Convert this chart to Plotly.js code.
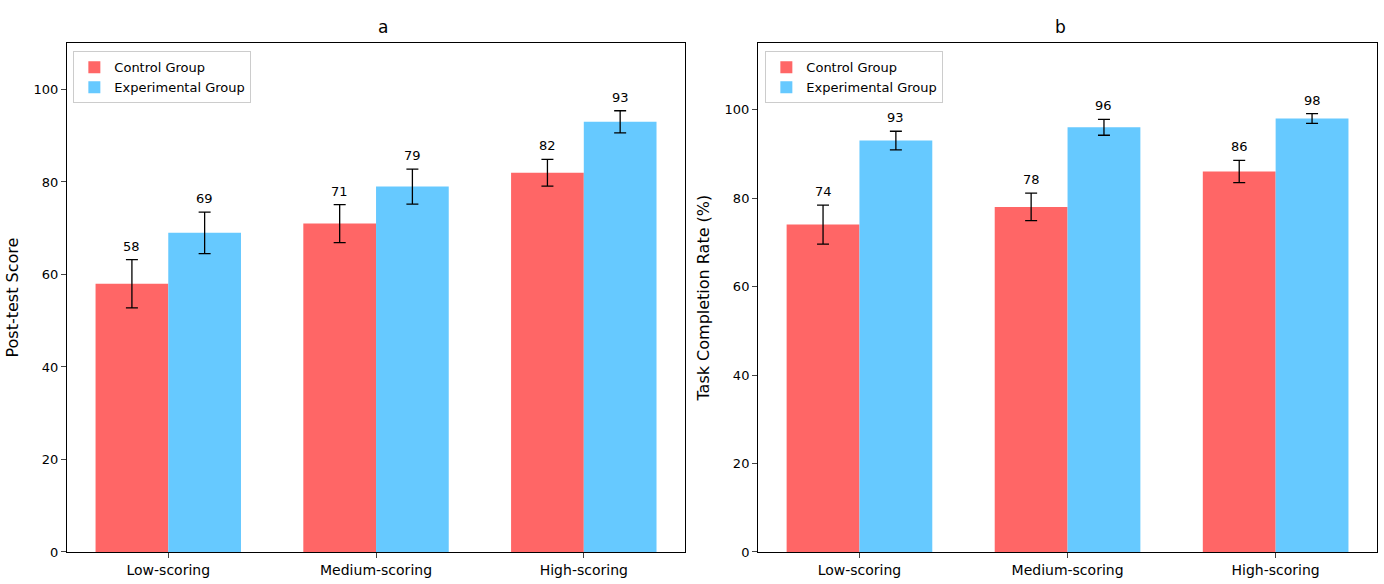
<!DOCTYPE html>
<html><head><meta charset="utf-8">
<script src="https://cdn.plot.ly/plotly-3.0.1.min.js"></script>
<style>body{margin:0}</style></head>
<body><div id="chart" style="width:1384px;height:584px"></div>
<script>
var categories = ['Low-scoring', 'Medium-scoring', 'High-scoring'];
var scoreControl = [58, 71, 82];
var scoreControlErr = [5.2, 4.1, 2.9];
var scoreExp = [69, 79, 93];
var scoreExpErr = [4.5, 3.8, 2.4];
var rateControl = [74, 78, 86];
var rateControlErr = [4.4, 3.1, 2.5];
var rateExp = [93, 96, 98];
var rateExpErr = [2.1, 1.8, 1.1];

var W = 0.35;
function xs(off) { return categories.map(function (c, i) { return i + off; }); }

function bar(name, x, y, err, color, xa, ya, leg, show) {
  return {
    type: 'bar', name: name, x: x, y: y, width: W, xaxis: xa, yaxis: ya,
    marker: {color: color}, legend: leg, showlegend: true,
    error_y: {type: 'data', array: err, visible: true, color: 'black', thickness: 1.3, width: 6}
  };
}

var red = '#ff6666', blue = '#66c9ff';
var data = [
  bar('Control Group', xs(-W / 2), scoreControl, scoreControlErr, red, 'x', 'y', 'legend'),
  bar('Experimental Group', xs(W / 2), scoreExp, scoreExpErr, blue, 'x', 'y', 'legend'),
  bar('Control Group', xs(-W / 2), rateControl, rateControlErr, red, 'x2', 'y2', 'legend2'),
  bar('Experimental Group', xs(W / 2), rateExp, rateExpErr, blue, 'x2', 'y2', 'legend2')
];

var annotations = [];
function labels(vals, errs, off, xa, ya) {
  vals.forEach(function (v, i) {
    annotations.push({x: i + off, y: v + errs[i], xref: xa, yref: ya, text: String(v),
      showarrow: false, yanchor: 'bottom', yshift: 4, font: {size: 13, color: 'black'}});
  });
}
labels(scoreControl, scoreControlErr, -W / 2, 'x', 'y');
labels(scoreExp, scoreExpErr, W / 2, 'x', 'y');
labels(rateControl, rateControlErr, -W / 2, 'x2', 'y2');
labels(rateExp, rateExpErr, W / 2, 'x2', 'y2');
annotations.push({text: 'a', x: 0.272, y: 1 - 15 / 584, xref: 'paper', yref: 'paper', showarrow: false, font: {size: 17}});
annotations.push({text: 'b', x: 0.7715, y: 1 - 15 / 584, xref: 'paper', yref: 'paper', showarrow: false, font: {size: 17}});

function xaxis(dom) {
  return {domain: dom, range: [-0.4875, 2.4875], tickvals: [0, 1, 2], ticktext: categories,
    showline: true, mirror: true, linecolor: 'black', ticks: 'outside', tickfont: {size: 14}, showgrid: false, zeroline: false};
}
function yaxis(rng, title, anchor) {
  return {domain: [0.0548, 0.926], range: rng, dtick: 20, anchor: anchor, showline: true, mirror: true,
    linecolor: 'black', ticks: 'outside', showgrid: false, zeroline: false, tickfont: {size: 13},
    title: {text: title, font: {size: 16}, standoff: 10}};
}
function legend(x) {
  return {x: x, y: 0.912, xref: 'paper', yref: 'paper', xanchor: 'left', yanchor: 'top',
    bgcolor: 'rgba(255,255,255,0.8)', bordercolor: '#ccc', borderwidth: 1, font: {size: 13}};
}

var layout = {
  width: 1384, height: 584, margin: {l: 0, r: 0, t: 0, b: 0},
  font: {family: 'DejaVu Sans', color: 'black'},
  plot_bgcolor: 'white', paper_bgcolor: 'white', barmode: 'overlay',
  xaxis: xaxis([0.0484, 0.495]), yaxis: yaxis([0, 110], 'Post-test Score', 'x'),
  xaxis2: xaxis([0.5477, 0.995]), yaxis2: yaxis([0, 115], 'Task Completion Rate (%)', 'x2'),
  legend: legend(0.053), legend2: legend(0.553),
  annotations: annotations
};
layout.xaxis2.anchor = 'y2';

Plotly.newPlot('chart', data, layout, {displayModeBar: false});
</script></body></html>
